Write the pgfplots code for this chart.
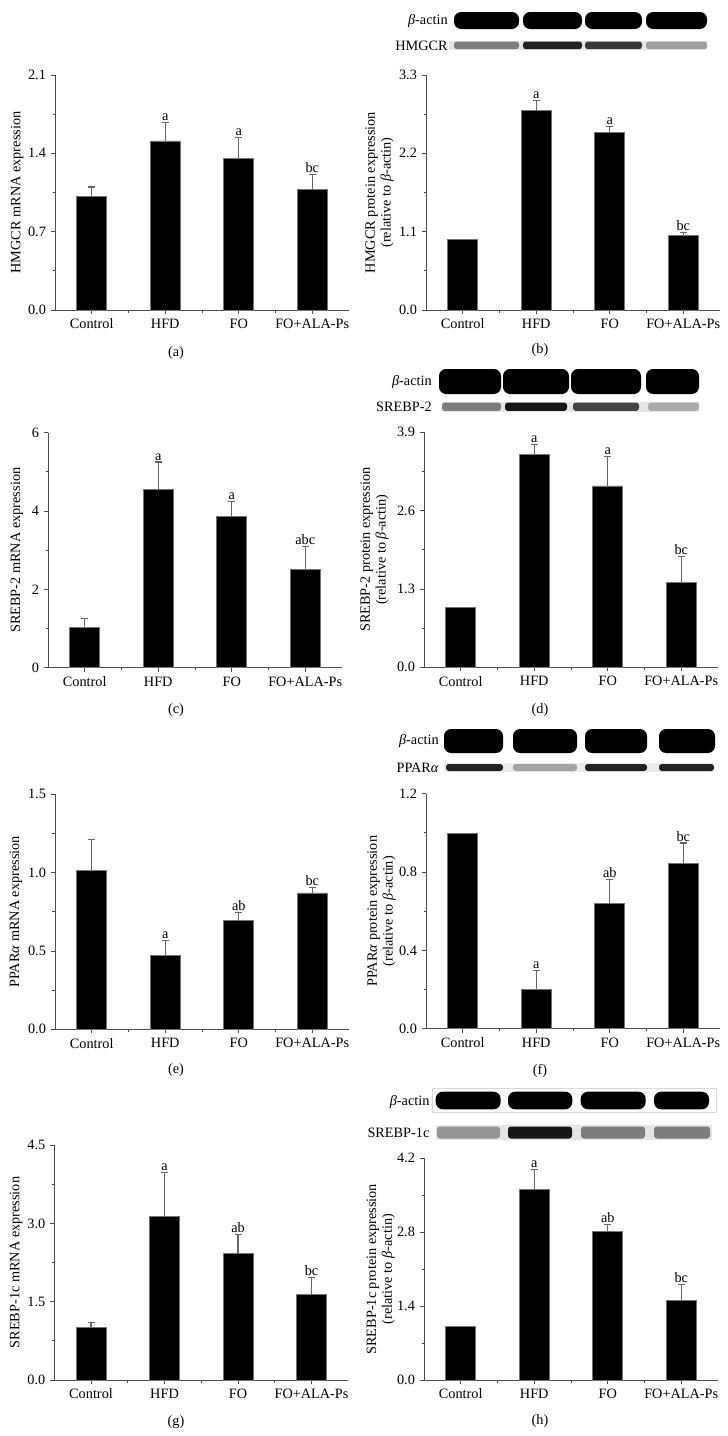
\documentclass[border=0pt]{standalone}
\usepackage{fontspec}
\setmainfont{Liberation Serif}
\usepackage{pgfplots}
\pgfplotsset{compat=1.18}

% 1 px of the reference = 0.7pt
\colorlet{axgray}{black!70}
\colorlet{errgray}{black!60}
\newcommand\fs{\fontsize{10}{11}\selectfont}

\pgfplotsset{
  panel/.style={
    scale only axis, width=205.8pt, height=164.5pt,
    anchor=south west,
    xmin=-0.5, xmax=3.5, ymin=0,
    axis x line*=bottom, axis y line*=left,
    axis line style={axgray, line width=0.6pt},
    xtick={0,1,2,3}, xticklabels={Control,HFD,FO,FO+ALA-Ps},
    minor xtick={0.5,1.5,2.5},
    tick align=outside,
    tick style={axgray, line width=0.6pt},
    major tick length=2.8pt, minor tick length=1.75pt,
    tick label style={font=\fs},
    label style={font=\fs},
    /pgf/number format/assume math mode=true,
    yticklabel style={/pgf/number format/.cd, fixed, fixed zerofill, precision=1},
    ylabel style={anchor=center, align=center},
    clip=false,
  },
  ylab/.style={ylabel style={at={(axis description cs:#1,0.5)}}},
  bars/.style={ybar, bar width=21pt, bar shift=0pt, fill=black, draw=black!55, line width=0.4pt},
  errs/.style={error bars/.cd, y dir=plus, y explicit,
    error bar style={errgray, line width=0.9pt},
    error mark options={rotate=90, errgray, line width=0.9pt, mark size=2.45pt}},
  letters/.style={only marks, mark=none, nodes near coords, point meta=explicit symbolic,
    nodes near coords style={anchor=south, inner sep=1pt, font=\fs, text=black}},
}

\begin{document}
\begin{tikzpicture}

% (a)
\begin{axis}[panel, at={(38.5pt,-217pt)}, ymax=2.1,
  ytick={0,0.7,1.4,2.1}, minor ytick={0.35,1.05,1.75},
  ylab=-0.129, ylabel={HMGCR mRNA expression}]
\addplot[bars, errs] coordinates {(0,1.013) +- (0,0.087) (1,1.512) +- (0,0.161) (2,1.356) +- (0,0.186) (3,1.076) +- (0,0.134)};
\addplot[letters] coordinates {(1,1.673) [a] (2,1.542) [a] (3,1.21) [bc]};
\end{axis}

% (b)
\begin{axis}[panel, at={(298.2pt,-217pt)}, ymax=3.3,
  ytick={0,1.1,2.2,3.3}, minor ytick={0.55,1.65,2.75},
  ylab=-0.158, ylabel={HMGCR protein expression\\(relative to \textit{β}-actin)}]
\addplot[bars] coordinates {(0,1.0)};
\addplot[bars, errs] coordinates {(1,2.80) +- (0,0.14) (2,2.495) +- (0,0.085) (3,1.049) +- (0,0.042)};
\addplot[letters] coordinates {(1,2.94) [a] (2,2.58) [a] (3,1.091) [bc]};
\end{axis}

% (c)
\begin{axis}[panel, at={(33.6pt,-467.4pt)}, ymax=6,
  ytick={0,2,4,6}, minor ytick={1,3,5},
  yticklabel style={/pgf/number format/precision=0},
  ylab=-0.106, ylabel={SREBP-2 mRNA expression}]
\addplot[bars, errs] coordinates {(0,1.02) +- (0,0.24) (1,4.55) +- (0,0.70) (2,3.87) +- (0,0.38) (3,2.52) +- (0,0.58)};
\addplot[letters] coordinates {(1,5.25) [a] (2,4.25) [a] (3,3.10) [abc]};
\end{axis}

% (d)
\begin{axis}[panel, at={(296.8pt,-467.1pt)}, ymax=3.9,
  ytick={0,1.3,2.6,3.9}, minor ytick={0.65,1.95,3.25},
  ylab=-0.168, ylabel={SREBP-2 protein expression\\(relative to \textit{β}-actin)}]
\addplot[bars] coordinates {(0,1.0)};
\addplot[bars, errs] coordinates {(1,3.535) +- (0,0.157) (2,3.01) +- (0,0.487) (3,1.41) +- (0,0.432)};
\addplot[letters] coordinates {(1,3.692) [a] (2,3.497) [a] (3,1.842) [bc]};
\end{axis}

% (e)
\begin{axis}[panel, at={(38.5pt,-720.5pt)}, ymax=1.5,
  ytick={0,0.5,1.0,1.5}, minor ytick={0.25,0.75,1.25},
  ylab=-0.133, ylabel={PPAR\textit{α} mRNA expression}]
\addplot[bars, errs] coordinates {(0,1.016) +- (0,0.195) (1,0.474) +- (0,0.095) (2,0.693) +- (0,0.053) (3,0.871) +- (0,0.036)};
\addplot[letters] coordinates {(1,0.569) [a] (2,0.746) [ab] (3,0.907) [bc]};
\end{axis}

% (f)
\begin{axis}[panel, at={(298.2pt,-720.1pt)}, ymax=1.2,
  ytick={0,0.4,0.8,1.2}, minor ytick={0.2,0.6,1.0},
  ylab=-0.151, ylabel={PPAR\textit{α} protein expression\\(relative to \textit{β}-actin)}]
\addplot[bars] coordinates {(0,1.0)};
\addplot[bars, errs] coordinates {(1,0.202) +- (0,0.097) (2,0.641) +- (0,0.121) (3,0.843) +- (0,0.105)};
\addplot[letters] coordinates {(1,0.299) [a] (2,0.762) [ab] (3,0.948) [bc]};
\end{axis}

% (g)
\begin{axis}[panel, at={(38pt,-966pt)}, ymax=4.5,
  ytick={0,1.5,3.0,4.5}, minor ytick={0.75,2.25,3.75},
  ylab=-0.130, ylabel={SREBP-1c mRNA expression}]
\addplot[bars, errs] coordinates {(0,1.008) +- (0,0.09) (1,3.127) +- (0,0.843) (2,2.419) +- (0,0.361) (3,1.646) +- (0,0.313)};
\addplot[letters] coordinates {(1,3.97) [a] (2,2.78) [ab] (3,1.959) [bc]};
\end{axis}

% (h)
\begin{axis}[panel, at={(296.8pt,-966pt)}, height=155.2pt, ymax=4.2,
  ytick={0,1.4,2.8,4.2}, minor ytick={0.7,2.1,3.5},
  ylab=-0.147, ylabel={SREBP-1c protein expression\\(relative to \textit{β}-actin)}]
\addplot[bars] coordinates {(0,1.01)};
\addplot[bars, errs] coordinates {(1,3.613) +- (0,0.377) (2,2.81) +- (0,0.14) (3,1.503) +- (0,0.31)};
\addplot[letters] coordinates {(1,3.99) [a] (2,2.95) [ab] (3,1.813) [bc]};
\end{axis}

% western blot strips and panel letters, in reference pixels
\begin{scope}[x=0.7pt, y=-0.7pt, font=\fs]
\path[use as bounding box] (0,0) rectangle (728,1436);

% (b) HMGCR
\foreach \a/\b in {454/519, 523/582, 585/642, 646/707}
  \fill[black, rounded corners=5pt] (\a,12) rectangle (\b,29);
\fill[black!10] (449,40.7) rectangle (707,50);
\foreach \a/\b/\o in {454/519/0.45, 523/582/0.85, 585/642/0.75, 646/707/0.3}
  \fill[black, opacity=\o, rounded corners=2pt] (\a,41.5) rectangle (\b,49.2);
\node[anchor=east, inner sep=0] at (448,21) {\textit{β}-actin};
\node[anchor=east, inner sep=0] at (448,45.5) {HMGCR};

% (d) SREBP-2
\foreach \a/\b in {439/501, 503/569, 571/641, 646/699}
  \fill[black, rounded corners=5pt] (\a,369) rectangle (\b,394);
\fill[black!10] (442,401.7) rectangle (699,411.7);
\foreach \a/\b/\o in {442/501/0.45, 505/567/0.9, 573/639/0.7, 648/699/0.25}
  \fill[black, opacity=\o, rounded corners=2pt] (\a,402.5) rectangle (\b,410.9);
\node[anchor=east, inner sep=0] at (432,382) {\textit{β}-actin};
\node[anchor=east, inner sep=0] at (432,406.7) {SREBP-2};

% (f) PPARalpha
\foreach \a/\b in {444/503, 513/577, 585/647, 659/715}
  \fill[black, rounded corners=5pt] (\a,729) rectangle (\b,753);
\fill[black!8] (444,763) rectangle (714,772);
\foreach \a/\b/\o in {446/503/0.85, 513/577/0.3, 585/647/0.85, 659/714/0.85}
  \fill[black, opacity=\o, rounded corners=2pt] (\a,764) rectangle (\b,771);
\node[anchor=east, inner sep=0] at (439,741) {\textit{β}-actin};
\node[anchor=east, inner sep=0] at (439,767.5) {PPAR\textit{α}};

% (h) SREBP-1c
\draw[black!15] (432,1088) rectangle (716,1112);
\foreach \a/\b in {435.7/500.7, 508/572.3, 580.7/645.7, 654/709}
  \fill[black, rounded corners=5pt] (\a,1091.7) rectangle (\b,1109.3);
\fill[black!10] (435.7,1125) rectangle (712,1140);
\foreach \a/\b/\o in {437/500/0.35, 508/572/0.9, 581/645/0.45, 654/710/0.45}
  \fill[black, opacity=\o, rounded corners=2pt] (\a,1126.5) rectangle (\b,1138.5);
\node[anchor=east, inner sep=0] at (429.7,1101.7) {\textit{β}-actin};
\node[anchor=east, inner sep=0] at (429.7,1132.5) {SREBP-1c};

% panel letters
\node at (176,353) {(a)};
\node at (540,350) {(b)};
\node at (176,710) {(c)};
\node at (540,710) {(d)};
\node at (176,1070) {(e)};
\node at (540,1071) {(f)};
\node at (176,1421.7) {(g)};
\node at (540,1421) {(h)};
\end{scope}
\end{tikzpicture}
\end{document}
